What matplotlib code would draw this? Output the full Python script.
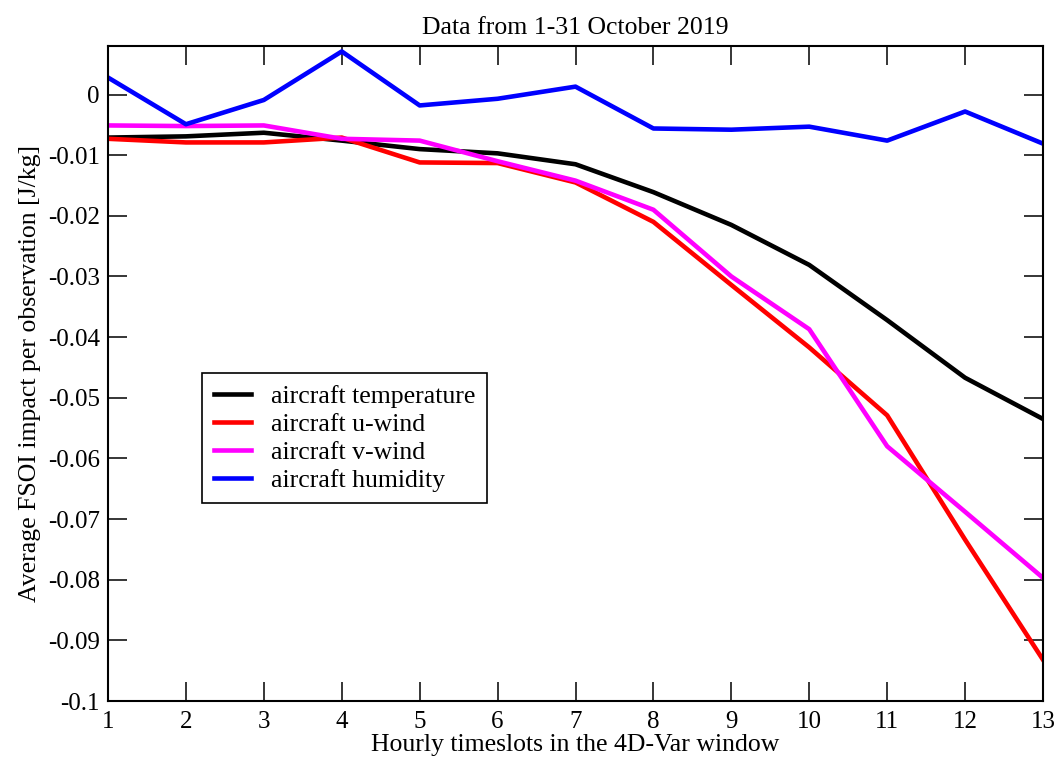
import matplotlib
matplotlib.use("Agg")
import matplotlib.pyplot as plt

plt.rcParams['font.family'] = ['Liberation Serif', 'DejaVu Serif']

# hourly timeslots in the 4D-Var window
timeslots = list(range(1, 14))

# average FSOI impact per observation [J/kg]
temperature = [-0.0071, -0.0069, -0.0063, -0.0076, -0.0090, -0.0097, -0.0115,
               -0.0161, -0.0215, -0.0281, -0.0372, -0.0467, -0.0535]
u_wind = [-0.0073, -0.0079, -0.0079, -0.0071, -0.0112, -0.0113, -0.0145,
          -0.0210, -0.0314, -0.0417, -0.0529, -0.0734, -0.0932]
v_wind = [-0.0051, -0.0052, -0.0051, -0.0073, -0.0076, -0.0110, -0.0142,
          -0.0190, -0.0300, -0.0387, -0.0580, -0.0688, -0.0797]
humidity = [0.0028, -0.0049, -0.0009, 0.0071, -0.0018, -0.0007, 0.0013,
            -0.0056, -0.0058, -0.0053, -0.0076, -0.0028, -0.0081]

yticks = [0, -0.01, -0.02, -0.03, -0.04, -0.05, -0.06, -0.07, -0.08, -0.09, -0.1]
ytick_labels = ['0', '-0.01', '-0.02', '-0.03', '-0.04', '-0.05', '-0.06',
                '-0.07', '-0.08', '-0.09', '-0.1']

fig = plt.figure(figsize=(10.6, 7.65), dpi=100)
ax = fig.add_axes([108/1060, 1 - 701/765, (1043-108)/1060, (701-46)/765])

ax.plot(timeslots, temperature, color='black', lw=3.3, label='aircraft temperature')
ax.plot(timeslots, u_wind, color='red', lw=3.3, label='aircraft u-wind')
ax.plot(timeslots, v_wind, color='magenta', lw=3.3, label='aircraft v-wind')
ax.plot(timeslots, humidity, color='blue', lw=3.3, label='aircraft humidity')

ax.set_xlim(1, 13)
ax.set_ylim(-0.1, 0.008)
ax.set_xticks(timeslots)
ax.set_yticks(yticks)
ax.set_yticklabels(ytick_labels)

ax.tick_params(direction='in', length=13.5, width=1.1, top=True, right=True,
               labelsize=18, pad=6)
ax.tick_params(axis='x', pad=7)
for s in ax.spines.values():
    s.set_linewidth(1.5)

ax.set_title('Data from 1-31 October 2019', fontsize=18.5, pad=9)
ax.set_xlabel('Hourly timeslots in the 4D-Var window', fontsize=18.5, labelpad=1)
ax.set_ylabel('Average FSOI impact per observation [J/kg]', fontsize=18.5, labelpad=5)

leg = ax.legend(loc='upper left', bbox_to_anchor=(202/1060, 1 - 373/765),
                bbox_transform=fig.transFigure, borderaxespad=0, fontsize=18.5,
                fancybox=False, framealpha=1, edgecolor='black',
                handlelength=1.45, handletextpad=0.8, labelspacing=0.2,
                borderpad=0.45)
leg.get_frame().set_linewidth(1.2)

fig.savefig('out.png', dpi=100)
